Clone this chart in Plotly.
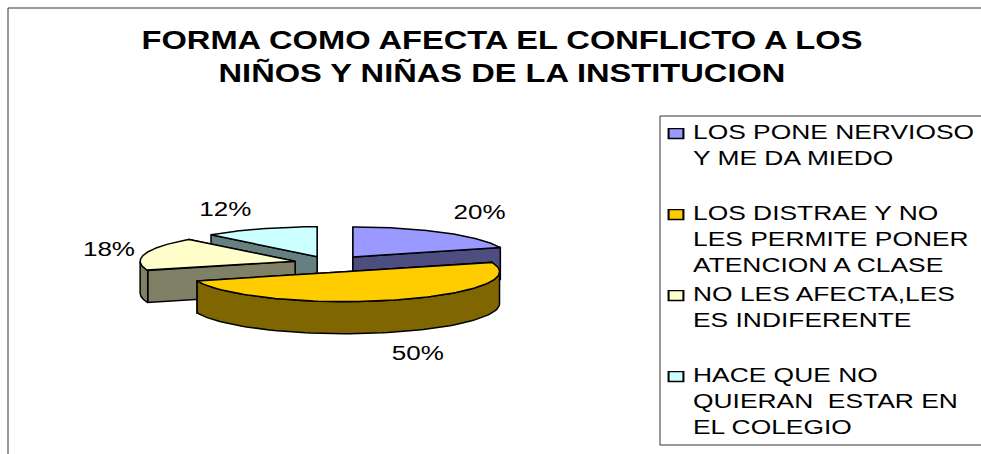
import numpy as np
import plotly.graph_objects as go

categories = ["LOS PONE NERVIOSO<br>Y ME DA MIEDO<br> ",
              "LOS DISTRAE Y NO<br>LES PERMITE PONER<br>ATENCION A CLASE",
              "NO LES AFECTA,LES<br>ES INDIFERENTE<br> ",
              "HACE QUE NO<br>QUIERAN  ESTAR EN<br>EL COLEGIO"]
values = [20, 50, 18, 12]
labels = ["20%", "50%", "18%", "12%"]
top_colors = ["#9999FF", "#FFCC00", "#FFFFCC", "#CCFFFF"]
wall_colors = ["#4D4D80", "#806600", "#808066", "#668080"]
title = "FORMA COMO AFECTA EL CONFLICTO A LOS<br>NIÑOS Y NIÑAS DE LA INSTITUCION"

# Pie projection (pixels on the hidden axes)
CX, CY, RX, RY, DEPTH = 330, 263, 155, 30, 32
pull = [39, 47, 36, 35]
label_fx = [1.39, 1.53, 1.24, 1.61]
label_fy = [1.85, 2.86, 1.73, 1.72]
LABEL_DY = 2


def project(ax, ay, deg, r=1.0):
    t = np.radians(deg)
    return ax + r * RX * np.sin(t), ay - r * RY * np.cos(t)


def poly(xs, ys, color):
    return go.Scatter(x=list(xs) + [xs[0]], y=list(ys) + [ys[0]], mode="lines", fill="toself",
                      fillcolor=color, line=dict(color="#000000", width=1.5),
                      hoverinfo="skip", showlegend=False)


fig = go.Figure()
total = sum(values)
start = 0.0
wedges = []
for i, v in enumerate(values):
    end = start + v / total * 360
    wedges.append((i, start, end))
    start = end

for i, a0, a1 in [wedges[3], wedges[2], wedges[0], wedges[1]]:
    mid = np.radians((a0 + a1) / 2)
    ax = CX + pull[i] * np.sin(mid)
    ay = CY - pull[i] * (RY / RX) * np.cos(mid)
    walls = []
    for deg in (a0, a1):
        ex, ey = project(ax, ay, deg)
        walls.append(([ax, ex, ex, ax], [ay, ey, ey + DEPTH, ay + DEPTH]))
    lo, hi = max(a0, 90), min(a1, 270)
    if hi > lo:
        arc = np.linspace(lo, hi, 80)
        ox, oy = project(ax, ay, arc)
        walls.append((list(ox) + list(ox[::-1]), list(oy) + list(oy[::-1] + DEPTH)))
    walls.sort(key=lambda w: np.mean(w[1]))
    for wx, wy in walls:
        fig.add_trace(poly(wx, wy, wall_colors[i]))
    arc = np.linspace(a0, a1, 120)
    tx, ty = project(ax, ay, arc)
    fig.add_trace(poly([ax] + list(tx), [ay] + list(ty), top_colors[i]))
    dx, dy = RX * np.sin(mid), -RY * np.cos(mid)
    fig.add_trace(go.Scatter(x=[ax + label_fx[i] * dx], y=[ay + label_fy[i] * dy + LABEL_DY], mode="text",
                             text=[labels[i]], textposition="middle center",
                             textfont=dict(family="Liberation Sans", size=21, color="#000000"),
                             hoverinfo="skip", showlegend=False))

for name, color in zip(categories, top_colors):
    fig.add_trace(go.Scatter(x=[None], y=[None], mode="markers", name=name,
                             marker=dict(symbol="square", size=11, color=color,
                                         line=dict(color="#000000", width=1.5))))

fig.update_layout(
    width=981, height=454, autosize=False,
    margin=dict(l=0, r=0, t=0, b=0),
    paper_bgcolor="#FFFFFF", plot_bgcolor="#FFFFFF",
    title=dict(text=title, x=502 / 981, xanchor="center", y=1 - 49.5 / 454, yanchor="middle",
               font=dict(family="Liberation Sans", size=25, color="#000000", weight="bold")),
    xaxis=dict(range=[0, 981], visible=False, fixedrange=True),
    yaxis=dict(range=[454, 0], visible=False, fixedrange=True),
    legend=dict(x=656 / 981, xanchor="left", y=1 - 112 / 454, yanchor="top",
                bgcolor="rgba(0,0,0,0)", borderwidth=0,
                font=dict(family="Liberation Sans", size=20, color="#000000"),
                itemclick=False, itemdoubleclick=False, tracegroupgap=0),
    shapes=[
        dict(type="rect", xref="paper", yref="paper", x0=8 / 981, x1=1.02, y0=-0.05, y1=1 - 8 / 454,
             line=dict(color="#333333", width=1), fillcolor="rgba(0,0,0,0)", layer="below"),
        dict(type="rect", xref="paper", yref="paper", x0=660 / 981, x1=1.02, y0=1 - 445 / 454, y1=1 - 116 / 454,
             line=dict(color="#333333", width=1), fillcolor="rgba(0,0,0,0)", layer="below"),
    ],
)

# The reference is a horizontally stretched raster: widen the real text to match.
post = """
document.body.style.margin = '0';
document.documentElement.style.overflow = 'hidden';
var gd = document.getElementById('{plot_id}');
function stretch(sel, k, dx) {
  gd.querySelectorAll(sel).forEach(function (t) {
    if (t.dataset.st) return;
    t.dataset.st = '1';
    var x = parseFloat(t.getAttribute('x')) || 0;
    var old = t.getAttribute('transform') || '';
    t.setAttribute('transform', old + ' translate(' + (x + dx) + ',0) scale(' + k + ',1) translate(' + (-x) + ',0)');
  });
}
function fix() {
  stretch('.gtitle', 1.306, 0);
  stretch('.textpoint text', 1.24, 0);
  stretch('.legendtext', 1.32, -3);
  gd.querySelectorAll('.legend .scrollbox, .legend').forEach(function (s) {
    s.removeAttribute('clip-path');
    s.style.clipPath = 'none';
  });
  gd.querySelectorAll('.legendsymbols').forEach(function (s) {
    s.setAttribute('transform', 'translate(20,-24) scale(1.35,0.9) translate(-20,0)');
  });
}
fix();
gd.on && gd.on('plotly_afterplot', fix);
"""
fig.write_html("out.html", config=dict(displayModeBar=False), post_script=post)
